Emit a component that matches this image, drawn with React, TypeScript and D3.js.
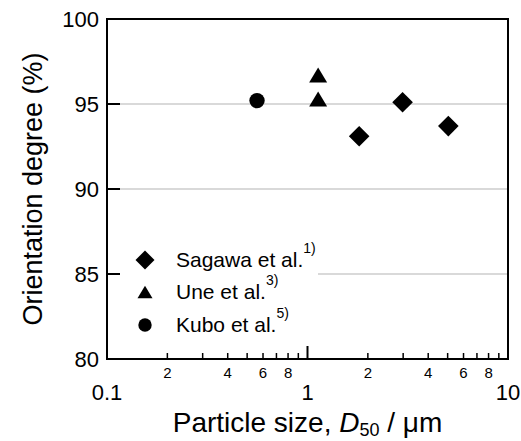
import React from "react";
import * as d3 from "d3";

const sagawaSize = [1.81, 2.98, 5.04];
const sagawaOrient = [93.1, 95.1, 93.7];
const uneSize = [1.13, 1.13];
const uneOrient = [96.7, 95.3];
const kuboSize = [0.56];
const kuboOrient = [95.2];

const yTicks = [80, 85, 90, 95, 100];
const yGrid = [85, 90, 95];
const xMajor = [0.1, 1, 10];
const xMajorLabels = ["0.1", "1", "10"];
const xMinorLabeled = [2, 4, 6, 8];

const legendNames = ["Sagawa et al.", "Une et al.", "Kubo et al."];
const legendRefs = ["1)", "3)", "5)"];

const W = 521;
const H = 441;
const L = 107, R = 508, T = 19, B = 359;
const FONT = "Arial, 'Liberation Sans', Helvetica, sans-serif";

const diamond = (s: number) => `M0,${-s}L${s},0L0,${s}L${-s},0Z`;
const triangle = (w: number, h: number) => `M0,${-h / 2}L${w / 2},${h / 2}L${-w / 2},${h / 2}Z`;

export default function App() {
  const x = d3.scaleLog().domain([0.1, 10]).range([L, R]);
  const y = d3.scaleLinear().domain([80, 100]).range([B, T]);

  const minorTicks: number[] = [];
  for (const dec of [0.1, 1]) {
    for (let k = 2; k <= 9; k++) minorTicks.push(dec * k);
  }

  const legendY = [260, 292, 325];

  return (
    <svg width={W} height={H} style={{ position: "absolute", left: 0, top: 0, background: "#fff" }} fontFamily={FONT}>
      <rect x={0} y={0} width={W} height={H} fill="#fff" />
      {yGrid.map((v) => (
        <line key={v} x1={L} x2={R} y1={y(v)} y2={y(v)} stroke="#b4b4b4" strokeWidth={1.2} />
      ))}
      <rect x={L + 2} y={242} width={318 - L - 2} height={98} fill="#fff" />
      {yTicks.map((v) => (
        <g key={v}>
          <line x1={L} x2={L + 13} y1={y(v)} y2={y(v)} stroke="#000" strokeWidth={2} />
          <text x={L - 8} y={y(v)} dy="0.36em" textAnchor="end" fontSize={22}>{v}</text>
        </g>
      ))}
      {minorTicks.map((v, i) => (
        <line key={i} x1={x(v)} x2={x(v)} y1={B} y2={B - 6} stroke="#000" strokeWidth={1.5} />
      ))}
      {xMajor.map((v) => (
        <line key={v} x1={x(v)} x2={x(v)} y1={B} y2={B - 13} stroke="#000" strokeWidth={2} />
      ))}
      {[0.1, 1].flatMap((dec) =>
        xMinorLabeled.map((k) => (
          <text key={`${dec}-${k}`} x={x(dec * k)} y={378} textAnchor="middle" fontSize={15}>{k}</text>
        ))
      )}
      {xMajor.map((v, i) => (
        <text key={v} x={x(v)} y={400} textAnchor="middle" fontSize={22}>{xMajorLabels[i]}</text>
      ))}
      <rect x={L} y={T} width={R - L} height={B - T} fill="none" stroke="#000" strokeWidth={2} />
      {sagawaSize.map((s, i) => (
        <path key={`s${i}`} d={diamond(10.3)} transform={`translate(${x(s)},${y(sagawaOrient[i])})`} fill="#000" />
      ))}
      {uneSize.map((s, i) => (
        <path key={`u${i}`} d={triangle(18, 15)} transform={`translate(${x(s)},${y(uneOrient[i])})`} fill="#000" />
      ))}
      {kuboSize.map((s, i) => (
        <circle key={`k${i}`} cx={x(s)} cy={y(kuboOrient[i])} r={7.7} fill="#000" />
      ))}
      <path d={diamond(9.5)} transform={`translate(145,${legendY[0]})`} fill="#000" />
      <path d={triangle(15, 12.5)} transform={`translate(145,${legendY[1]})`} fill="#000" />
      <circle cx={145} cy={legendY[2]} r={6.7} fill="#000" />
      {legendNames.map((n, i) => (
        <text key={n} x={176} y={legendY[i] + 6.5} fontSize={21}>
          {n}
          <tspan fontSize={14} dy={-14}>{legendRefs[i]}</tspan>
        </text>
      ))}
      <text x={307.5} y={432} textAnchor="middle" fontSize={28}>
        Particle size,{" "}
        <tspan fontStyle="italic">D</tspan>
        <tspan fontSize={18} dy={4}>50</tspan>
        <tspan dy={-4}> / μm</tspan>
      </text>
      <text transform={`translate(42,${(T + B) / 2}) rotate(-90)`} textAnchor="middle" fontSize={27}>
        Orientation degree (%)
      </text>
    </svg>
  );
}
